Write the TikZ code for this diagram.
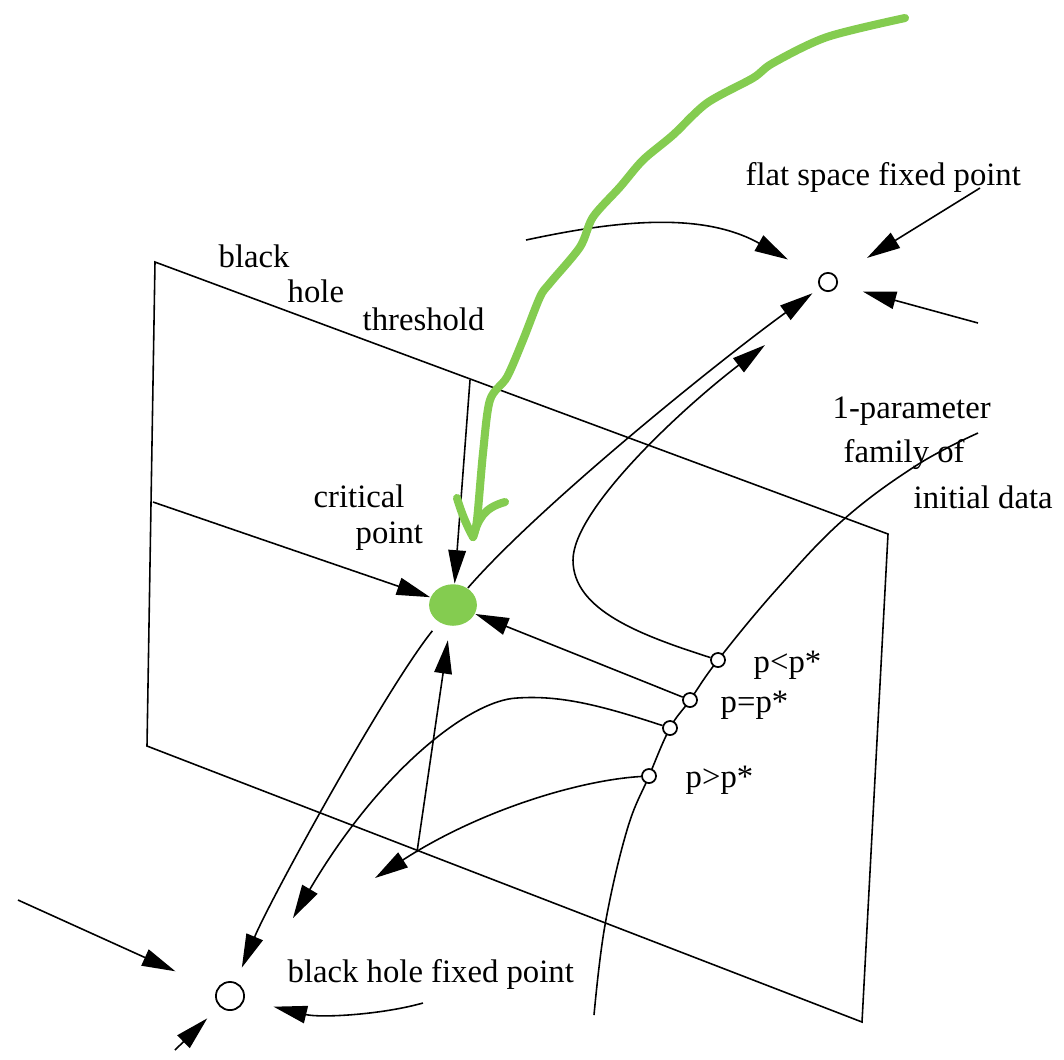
\documentclass[tikz,border=0pt]{standalone}
\usepackage{fontspec}
\setmainfont{Liberation Serif}
\usetikzlibrary{arrows.meta,shapes.geometric}
\definecolor{hlgreen}{RGB}{132,204,80}
\begin{document}
\begin{tikzpicture}[x=0.01cm,y=-0.01cm,
  every node/.style={inner sep=0pt, font=\fontsize{9.3}{11}\selectfont},
  lbl/.style={anchor=base west},
  thinline/.style={line width=0.45pt},
  flow/.style={line width=0.45pt, -{Triangle[length=9.5pt,width=5pt]}},
  dot/.style={circle, draw, line width=0.5pt, fill=white, minimum size=4pt},
  fixpt/.style={circle, draw, line width=0.5pt, fill=white},
  crit/.style={ellipse, fill=hlgreen, minimum width=13.6pt, minimum height=11.8pt},
  hl/.style={draw=hlgreen, line width=2.3pt, line cap=round, line join=round}
]
\useasboundingbox (0,0) rectangle (1064,1059);

% plane
\draw[thinline] (155,262) -- (888,534) -- (862,1022) -- (147,746) -- cycle;

% one-parameter family curve
\draw[thinline] plot[smooth, tension=0.65] coordinates {(594,1015) (605,925) (627,830) (649,776) (670,728) (690,700) (718,660) (776,590) (843,520) (917,465) (978,433)};

% nodes
\node[fixpt, minimum size=5.2pt] (fs) at (828,282) {};
\node[fixpt, minimum size=8pt] (bh) at (230,996) {};
\node[crit] (cp) at (453,605) {};
\node[dot] (c1) at (718,660) {};
\node[dot] (c2) at (690,700) {};
\node[dot] (c3) at (670,728) {};
\node[dot] (c4) at (649,776) {};

% free ends
\coordinate (L1) at (153,502);
\coordinate (T1) at (470,380);
\coordinate (B1) at (417,852);
\coordinate (fsA) at (526,240);
\coordinate (fsB) at (980,188);
\coordinate (fsC) at (978,323);
\coordinate (bhW) at (18,900);
\coordinate (bhS) at (175,1050);
\coordinate (bhE) at (423,1003);
\coordinate (e1) at (765,345);
\coordinate (e3) at (293,918);
\coordinate (e4) at (375,878);
\coordinate (m1) at (573,560);
\coordinate (m3) at (517,698);

% flows into the critical point
\draw[flow] (L1) -- (cp);
\draw[flow] (T1) -- (cp);
\draw[flow] (c2) -- (cp);
\draw[flow, shorten >=4pt] (B1) -- (cp);

% unstable directions of the critical point
\draw[flow, shorten >=2.6pt] (cp) .. controls (540,505) and (720,360) .. (fs);
\draw[flow, shorten <=3pt, shorten >=4.5pt] (cp) .. controls (385,690) and (270,900) .. (bh);

% trajectories from initial data
\draw[flow] (c1) .. controls (640,635) and (573,610) .. (m1) .. controls (573,510) and (680,410) .. (e1);
\draw[flow] (c3) .. controls (600,705) and (560,695) .. (m3) .. controls (470,700) and (380,770) .. (e3);
\draw[flow] (c4) .. controls (580,780) and (480,810) .. (e4);

% flows into flat space fixed point
\draw[flow, shorten >=10.2pt] (fsA) .. controls (610,222) and (700,210) .. (fs);
\draw[flow, shorten >=10.2pt] (fsB) -- (fs);
\draw[flow, shorten >=7.4pt] (fsC) -- (fs);

% flows into black hole fixed point
\draw[flow, shorten >=12.8pt] (bhW) -- (bh);
\draw[flow, shorten >=4.8pt] (bhS) -- (bh);
\draw[flow, shorten >=8.5pt] (bhE) .. controls (380,1015) and (320,1018) .. (bh);

% labels
\node[lbl] (tblack) at (218,267) {black};
\node[lbl] (thole) at (287,302) {hole};
\node[lbl] (tthr) at (362,330) {threshold};
\node[lbl] (tcrit) at (313,507) {critical};
\node[lbl] (tpoint) at (355,543) {point};
\node[lbl] (tpar) at (832,418) {1-parameter};
\node[lbl] (tfam) at (843,462) {family of};
\node[lbl] (tinit) at (913,508) {initial data};
\node[lbl] (tflat) at (745,185) {flat space fixed point};
\node[lbl] (tbh) at (287,982) {black hole fixed point};
\node[lbl] (tpl) at (753,672) {p<p*};
\node[lbl] (tpe) at (720,712) {p=p*};
\node[lbl] (tpg) at (685,787) {p>p*};

% green hand-drawn annotation
\draw[hl] plot[smooth, tension=0.5] coordinates {(905,18) (827,37) (773,63) (753,78) (707,103) (673,135) (643,160) (620,187) (593,217) (580,247) (550,283) (540,297) (523,340) (507,377) (490,400) (483,453) (477,520) (473,537)};
\draw[hl] (457,498) .. controls (462,515) and (468,528) .. (473,537) .. controls (478,520) and (483,508) .. (505,502);
\end{tikzpicture}
\end{document}
